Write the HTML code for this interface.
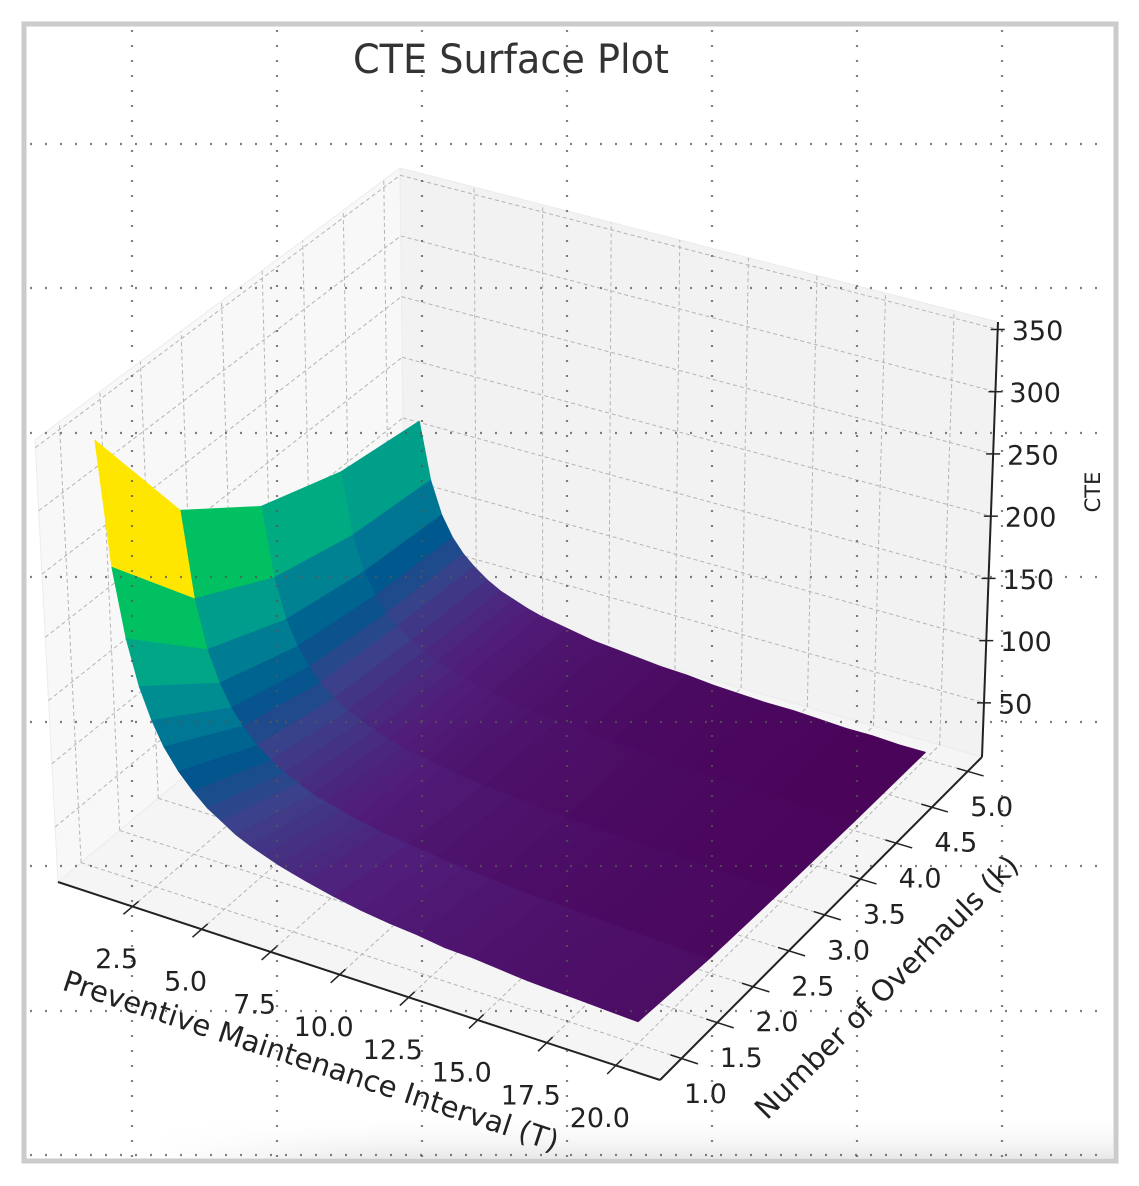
<!DOCTYPE html>
<html><head><meta charset="utf-8"><title>CTE Surface Plot</title>
<style>
html,body{margin:0;padding:0;background:#fff;}
svg{display:block;font-family:"DejaVu Sans","Liberation Sans",sans-serif;}
</style></head>
<body>
<svg id="chart" width="1139" height="1186" viewBox="0 0 1139 1186" xmlns="http://www.w3.org/2000/svg">
<defs>
<linearGradient id="shade" x1="0" y1="0" x2="0" y2="1">
<stop offset="0" stop-color="#ffffff" stop-opacity="0"/>
<stop offset="1" stop-color="#e9e9e9" stop-opacity="1"/>
</linearGradient>
<linearGradient id="shadeMask" x1="0" y1="0" x2="1" y2="0">
<stop offset="0" stop-color="#fff" stop-opacity="0"/>
<stop offset="0.25" stop-color="#fff" stop-opacity="1"/>
<stop offset="1" stop-color="#fff" stop-opacity="1"/>
</linearGradient>
<mask id="sm"><rect x="150" y="1100" width="965" height="60" fill="url(#shadeMask)"/></mask>
</defs>
<rect x="0" y="0" width="1139" height="1186" fill="#fff"/>
<rect x="24" y="24" width="1092" height="1137" fill="#fff" stroke="#cbcbcb" stroke-width="5"/>
<rect x="150" y="1112" width="963" height="46" fill="url(#shade)" mask="url(#sm)"/>
<g id="panes"></g>
<g id="grid3d"></g>
<g id="surface"></g>
<g id="axes"></g>
<g id="dots"></g>
<text x="511" y="73" text-anchor="middle" font-size="40" fill="#333" textLength="316" lengthAdjust="spacingAndGlyphs">CTE Surface Plot</text>
</svg>
<script>
// ---- data ----
const tValues = [1, 1.4, 1.8, 2.2, 2.6, 3, 3.5, 4, 4.5, 5, 5.5, 6, 6.5, 7, 7.5, 8, 9, 10, 11, 12, 13, 14, 15, 16, 17, 18, 19, 20];
const kValues = [1, 2, 3, 4, 5];
const cteK1 = [350, 252, 198, 163, 139, 121, 105, 93, 83, 76, 69, 64, 60, 56, 53, 50, 45, 41, 38, 36, 33, 32, 30, 28, 27, 26, 25, 24];
const cteK2 = [245, 177, 139, 115, 98, 86, 74, 66, 59, 54, 49, 46, 43, 40, 38, 36, 33, 30, 28, 26, 24, 23, 22, 21, 20, 19, 18, 18];
const cteK3 = [198, 143, 112, 93, 79, 69, 60, 53, 48, 44, 40, 37, 35, 33, 31, 29, 26, 24, 23, 21, 20, 19, 18, 17, 16, 16, 15, 15];
const cteK4 = [175, 126, 99, 82, 70, 62, 54, 48, 43, 39, 36, 33, 31, 29, 27, 26, 24, 22, 20, 19, 18, 17, 16, 16, 15, 14, 14, 13];
const cteK5 = [165, 119, 93, 77, 66, 58, 50, 44, 40, 36, 33, 31, 29, 27, 25, 24, 22, 20, 19, 17, 16, 15, 15, 14, 13, 13, 12, 12];
const tTickLabels = ["2.5", "5.0", "7.5", "10.0", "12.5", "15.0", "17.5", "20.0"];
const kTickLabels = ["1.0", "1.5", "2.0", "2.5", "3.0", "3.5", "4.0", "4.5", "5.0"];
const zTickLabels = ["50", "100", "150", "200", "250", "300", "350"];
const tRange = [-0.2, 21.6];
const kRange = [0.7, 5.2];
const zRange = [6.5, 356];

const cteRows = [cteK1, cteK2, cteK3, cteK4, cteK5];
const NS = "http://www.w3.org/2000/svg";
const C = [[[[58,882],[35,440]],[[405,592],[400,168]]],[[[660,1080],[676,634]],[[982,757],[998,322]]]];
function proj(T, k, z) {
  const u = (T - tRange[0]) / (tRange[1] - tRange[0]);
  const v = (k - kRange[0]) / (kRange[1] - kRange[0]);
  const w = (z - zRange[0]) / (zRange[1] - zRange[0]);
  let x = 0, y = 0;
  for (let a = 0; a < 2; a++) for (let b = 0; b < 2; b++) for (let c = 0; c < 2; c++) {
    const wt = (a ? u : 1 - u) * (b ? v : 1 - v) * (c ? w : 1 - w);
    x += wt * C[a][b][c][0]; y += wt * C[a][b][c][1];
  }
  return [x, y];
}
function mk(tag, attrs, parent) {
  const e = document.createElementNS(NS, tag);
  for (const k in attrs) e.setAttribute(k, attrs[k]);
  parent.appendChild(e);
  return e;
}
function pts(arr) { return arr.map(p => p[0].toFixed(1) + "," + p[1].toFixed(1)).join(" "); }
const [T0, T1] = tRange, [K0, K1] = kRange, [Z0, Z1] = zRange;

const panes = document.getElementById("panes");
let e;
e = mk("polygon", {points: pts([proj(T0,K0,Z0), proj(T0,K1,Z0), proj(T0,K1,Z1), proj(T0,K0,Z1)]), fill: "#f8f8f8", stroke: "#ececec"}, panes);


e = mk("polygon", {points: pts([proj(T0,K1,Z0), proj(T1,K1,Z0), proj(T1,K1,Z1), proj(T0,K1,Z1)]), fill: "#f2f2f2", stroke: "#ececec"}, panes);


e = mk("polygon", {points: pts([proj(T0,K0,Z0), proj(T1,K0,Z0), proj(T1,K1,Z0), proj(T0,K1,Z0)]), fill: "#f5f5f5", stroke: "#ececec"}, panes);



const grid = document.getElementById("grid3d");
const gStyle = {stroke: "#b4b4b4", "stroke-width": 1, "stroke-dasharray": "4 3", fill: "none"};
function gline(a, b, name) {
  const l = mk("line", Object.assign({x1: a[0], y1: a[1], x2: b[0], y2: b[1]}, gStyle), grid);
  
  
}
tTickLabels.forEach(s => {
  const t = parseFloat(s);
  gline(proj(t,K0,Z0), proj(t,K1,Z0), "floor-grid-t");
  gline(proj(t,K1,Z0), proj(t,K1,Z1), "back-grid-t");
});
kTickLabels.forEach(s => {
  const k = parseFloat(s);
  gline(proj(T0,k,Z0), proj(T1,k,Z0), "floor-grid-k");
  gline(proj(T0,k,Z0), proj(T0,k,Z1), "left-grid-k");
});
zTickLabels.forEach(s => {
  const z = parseFloat(s);
  gline(proj(T0,K0,z), proj(T0,K1,z), "left-grid-z");
  gline(proj(T0,K1,z), proj(T1,K1,z), "back-grid-z");
});

const stops = [[0,[74,4,90]],[0.1,[80,30,122]],[0.2,[60,64,138]],[0.3,[0,86,142]],[0.4,[0,118,148]],[0.5,[0,148,144]],[0.6,[0,170,132]],[0.7,[0,186,110]],[0.78,[0,200,80]],[0.9,[120,215,40]],[1,[255,230,0]]];
function cmap(t) {
  t = Math.max(0, Math.min(1, t));
  for (let i = 1; i < stops.length; i++) {
    if (t <= stops[i][0]) {
      const a = stops[i-1], b = stops[i], f = (t - a[0]) / (b[0] - a[0]);
      const c = a[1].map((v, j) => Math.round(v + (b[1][j] - v) * f));
      return "rgb(" + c.join(",") + ")";
    }
  }
  return "rgb(255,230,0)";
}

const faces = [];
for (let i = 0; i < tValues.length - 1; i++) {
  for (let j = 0; j < kValues.length - 1; j++) {
    const z00 = cteRows[j][i], z10 = cteRows[j][i+1], z01 = cteRows[j+1][i], z11 = cteRows[j+1][i+1];
    const avg = (z00 + z10 + z01 + z11) / 4;
    const uc = ((tValues[i] + tValues[i+1]) / 2 - T0) / (T1 - T0);
    const vc = ((kValues[j] + kValues[j+1]) / 2 - K0) / (K1 - K0);
    faces.push({i, j, avg, depth: vc - uc,
      poly: [proj(tValues[i], kValues[j], z00), proj(tValues[i+1], kValues[j], z10), proj(tValues[i+1], kValues[j+1], z11), proj(tValues[i], kValues[j+1], z01)]});
  }
}
const aMin = Math.min(...faces.map(f => f.avg)), aMax = Math.max(...faces.map(f => f.avg));
faces.sort((a, b) => b.depth - a.depth);
const surf = document.getElementById("surface");
faces.forEach(f => {
  const col = cmap((f.avg - aMin) / (aMax - aMin));
  const p = mk("polygon", {points: pts(f.poly), fill: col, stroke: col, "stroke-width": 0.8, "stroke-linejoin": "round"}, surf);
  
  
});

const axes = document.getElementById("axes");
function aline(a, b, name, w) {
  const l = mk("line", {x1: a[0], y1: a[1], x2: b[0], y2: b[1], stroke: "#222", "stroke-width": w || 2}, axes);
  
  
}
function label(x, y, s, name, size, extra) {
  const t = mk("text", Object.assign({x: x, y: y, "font-size": size, fill: "#222", "dominant-baseline": "central"}, extra || {}), axes);
  t.textContent = s;
  
  
  return t;
}
aline(proj(T0,K0,Z0), proj(T1,K0,Z0), "x-axis-line");
aline(proj(T1,K0,Z0), proj(T1,K1,Z0), "y-axis-line");
aline(proj(T1,K1,Z0), proj(T1,K1,Z1), "z-axis-line");
tTickLabels.forEach(s => {
  const t = parseFloat(s);
  aline(proj(t,K0-0.12,Z0), proj(t,K0+0.08,Z0), "x-tick", 1.5);
  const p = proj(t,K0,Z0);
  label(p[0]-16, p[1]+53, s, "x-tick-label", 27, {"text-anchor": "middle"});
});
kTickLabels.forEach(s => {
  const k = parseFloat(s);
  aline(proj(T1+0.6,k,Z0), proj(T1-0.4,k,Z0), "y-tick", 1.5);
  const p = proj(T1,k,Z0);
  label(p[0]+24, p[1]+36, s, "y-tick-label", 27, {"text-anchor": "middle"});
});
zTickLabels.forEach(s => {
  const z = parseFloat(s);
  const p = proj(T1,K1,z);
  aline([p[0]-7, p[1]], [p[0]+7, p[1]], "z-tick", 1.5);
  label(p[0]+14, p[1]+2, s, "z-tick-label", 27, {"text-anchor": "start"});
});
(function(){
  const p = proj(10.7, K0, Z0);
  label(p[0]-48, p[1]+80, "Preventive Maintenance Interval (T)", "x-axis-title", 29, {"text-anchor": "middle", transform: "rotate(18.2 " + (p[0]-48) + " " + (p[1]+80) + ")"});
  const q = proj(T1, 3.0, Z0);
  label(q[0]+62, q[1]+72, "Number of Overhauls (k)", "y-axis-title", 29, {"text-anchor": "middle", transform: "rotate(-45 " + (q[0]+62) + " " + (q[1]+72) + ")"});
  label(1093, 492, "CTE", "z-axis-title", 21, {"text-anchor": "middle", transform: "rotate(-90 1093 492)"});
})();

const dots = document.getElementById("dots");
[132, 277, 422, 567, 712, 857, 1002].forEach(x => {
  const l = mk("line", {x1: x, y1: 30, x2: x, y2: 1158, stroke: "#555", "stroke-width": 2.2, "stroke-dasharray": "2 13", "stroke-opacity": 0.75}, dots);
  
  
});
[144, 288, 433, 577, 722, 866, 1011, 1155].forEach(y => {
  const l = mk("line", {x1: 30, y1: y, x2: 1110, y2: y, stroke: "#555", "stroke-width": 2.2, "stroke-dasharray": "2 13", "stroke-opacity": 0.75}, dots);
  
  
});
</script>
</body></html>
